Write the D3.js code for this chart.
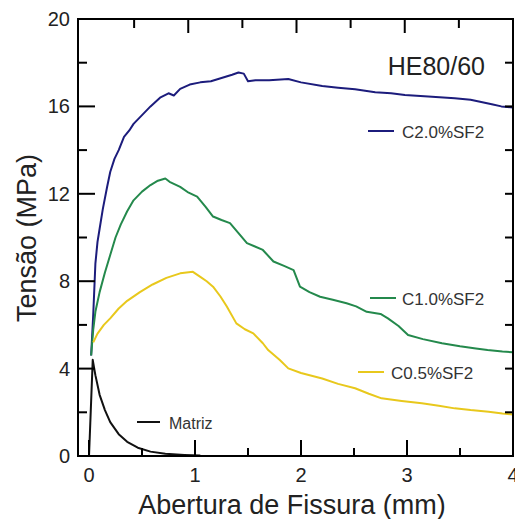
<!DOCTYPE html>
<html>
<head>
<meta charset="utf-8">
<script src="https://cdn.jsdelivr.net/npm/d3@7"></script>
<style>
  html, body { margin: 0; padding: 0; background: #fff; }
  svg { display: block; font-family: "Liberation Sans", Arial, sans-serif; }
</style>
</head>
<body>
<div id="chart"></div>
<script>
// values: [abertura (mm), tensão (MPa)]
const c20 = [[0.02,4.6],[0.04,6.5],[0.06,8.8],[0.08,9.8],[0.1,10.4],[0.13,11.3],[0.17,12.3],[0.2,13.0],[0.24,13.6],[0.28,14.0],[0.33,14.6],[0.38,14.9],[0.42,15.2],[0.5,15.6],[0.58,16.0],[0.67,16.4],[0.75,16.6],[0.8,16.5],[0.86,16.8],[0.95,17.0],[1.05,17.1],[1.15,17.15],[1.25,17.3],[1.35,17.45],[1.41,17.55],[1.46,17.5],[1.5,17.15],[1.57,17.2],[1.7,17.2],[1.88,17.25],[2.0,17.1],[2.2,16.93],[2.35,16.85],[2.51,16.78],[2.7,16.65],[2.85,16.6],[2.98,16.52],[3.2,16.45],[3.45,16.37],[3.6,16.3],[3.7,16.2],[3.8,16.1],[3.89,16.0],[4.0,15.95]];
const c10 = [[0.02,4.6],[0.04,5.8],[0.06,6.6],[0.1,7.5],[0.15,8.4],[0.2,9.2],[0.25,10.0],[0.3,10.6],[0.36,11.2],[0.42,11.7],[0.5,12.1],[0.58,12.4],[0.65,12.6],[0.72,12.7],[0.76,12.55],[0.86,12.32],[0.94,12.05],[1.02,11.87],[1.1,11.4],[1.17,10.96],[1.25,10.8],[1.33,10.66],[1.41,10.2],[1.49,9.74],[1.56,9.6],[1.64,9.43],[1.74,8.9],[1.84,8.7],[1.93,8.51],[1.99,7.75],[2.08,7.5],[2.18,7.29],[2.3,7.15],[2.43,6.99],[2.52,6.85],[2.62,6.6],[2.75,6.5],[2.82,6.3],[2.92,5.95],[3.01,5.54],[3.15,5.35],[3.33,5.16],[3.5,5.02],[3.65,4.92],[3.76,4.85],[3.9,4.78],[4.0,4.75]];
const c05 = [[0.04,5.2],[0.08,5.6],[0.14,6.0],[0.2,6.3],[0.28,6.75],[0.36,7.1],[0.48,7.5],[0.6,7.85],[0.73,8.15],[0.86,8.36],[0.98,8.43],[1.05,8.2],[1.11,8.0],[1.17,7.75],[1.24,7.3],[1.3,6.84],[1.39,6.07],[1.47,5.8],[1.55,5.61],[1.64,5.16],[1.69,4.85],[1.8,4.39],[1.88,4.01],[2.0,3.8],[2.2,3.55],[2.35,3.3],[2.51,3.1],[2.64,2.85],[2.76,2.64],[2.95,2.52],[3.14,2.41],[3.3,2.3],[3.45,2.18],[3.6,2.1],[3.77,2.03],[3.9,1.95],[4.0,1.9]];
const matriz = [[0.0,0.0],[0.035,4.4],[0.06,3.7],[0.1,2.8],[0.15,2.1],[0.2,1.55],[0.28,1.0],[0.36,0.65],[0.46,0.38],[0.58,0.2],[0.72,0.1],[0.9,0.05],[1.05,0.02]];

const seriesNames = ["C2.0%SF2", "C1.0%SF2", "C0.5%SF2", "Matriz"];
const seriesData = [c20, c10, c05, matriz];
const colors = ["#1c1c7c", "#24894c", "#e8c81c", "#111111"];

const xTicks = [0, 1, 2, 3, 4];
const yTicks = [0, 4, 8, 12, 16, 20];

const width = 515, height = 519;
const svg = d3.select("#chart").append("svg")
  .attr("width", width)
  .attr("height", height);

const x = d3.scaleLinear().domain([-0.104, 4]).range([78, 513]);
const xTop = d3.scaleLinear().domain([0, 4]).range([80, 513]); // top ticks sit a bit off in the original
const y = d3.scaleLinear().domain([0, 20]).range([456, 19]);

// curves
const line = d3.line().x(d => x(d[0])).y(d => y(d[1]));
svg.append("g").selectAll("path")
  .data(seriesData)
  .join("path")
  .attr("d", line)
  .attr("fill", "none")
  .attr("stroke", (d, i) => colors[i])
  .attr("stroke-width", 2)
  .attr("stroke-linejoin", "round");

// frame
svg.append("rect")
  .attr("x", 78).attr("y", 19)
  .attr("width", 513 - 78).attr("height", 456 - 19)
  .attr("fill", "none")
  .attr("stroke", "#000")
  .attr("stroke-width", 2);

// ticks (pointing inside)
const minorX = d3.range(0.5, 4, 1);
const minorY = d3.range(2, 20, 4);
const tickG = svg.append("g").attr("stroke", "#000").attr("stroke-width", 2);

tickG.selectAll(".xb").data(xTicks).join("line")
  .attr("x1", d => x(d)).attr("x2", d => x(d))
  .attr("y1", y(0)).attr("y2", y(0) - 16);
tickG.selectAll(".xbm").data(minorX).join("line")
  .attr("x1", d => x(d)).attr("x2", d => x(d))
  .attr("y1", y(0)).attr("y2", y(0) - 8);
tickG.selectAll(".xt").data([1, 2, 3]).join("line")
  .attr("x1", d => xTop(d)).attr("x2", d => xTop(d))
  .attr("y1", y(20)).attr("y2", y(20) + 14);
tickG.selectAll(".xtm").data(minorX).join("line")
  .attr("x1", d => xTop(d)).attr("x2", d => xTop(d))
  .attr("y1", y(20)).attr("y2", y(20) + 9);
tickG.selectAll(".yl").data(yTicks.slice(1, -1)).join("line")
  .attr("x1", 78).attr("x2", 78 + 17)
  .attr("y1", d => y(d)).attr("y2", d => y(d));
tickG.selectAll(".ylm").data(minorY).join("line")
  .attr("x1", 78).attr("x2", 78 + 9)
  .attr("y1", d => y(d)).attr("y2", d => y(d));
tickG.selectAll(".yr").data(d3.range(2, 20, 2)).join("line")
  .attr("x1", 513).attr("x2", 513 - 8)
  .attr("y1", d => y(d)).attr("y2", d => y(d));

// tick labels
svg.append("g").selectAll("text").data(xTicks).join("text")
  .attr("x", d => x(d)).attr("y", 482)
  .attr("text-anchor", "middle")
  .attr("font-size", 20).attr("fill", "#222")
  .text(d => d);
svg.append("g").selectAll("text").data(yTicks).join("text")
  .attr("x", 70).attr("y", d => y(d) + 7)
  .attr("text-anchor", "end")
  .attr("font-size", 20).attr("fill", "#222")
  .text(d => d);

// axis titles
svg.append("text")
  .attr("x", 292).attr("y", 514)
  .attr("text-anchor", "middle")
  .attr("font-size", 27).attr("fill", "#222")
  .text("Abertura de Fissura (mm)");
svg.append("text")
  .attr("transform", "translate(36,238) rotate(-90)")
  .attr("text-anchor", "middle")
  .attr("font-size", 27).attr("fill", "#222")
  .text("Tensão (MPa)");

svg.append("text")
  .attr("x", 485).attr("y", 75)
  .attr("text-anchor", "end")
  .attr("font-size", 25).attr("fill", "#222")
  .text("HE80/60");

// labels beside the curves
const legendPos = [[368, 131], [370, 298], [358, 372], [137, 422]];
const legend = svg.append("g").selectAll("g").data(seriesNames).join("g")
  .attr("transform", (d, i) => `translate(${legendPos[i][0]},${legendPos[i][1]})`);
legend.append("line")
  .attr("x1", 0).attr("x2", (d, i) => i === 3 ? 23 : 26)
  .attr("stroke", (d, i) => colors[i])
  .attr("stroke-width", 2);
legend.append("text")
  .attr("x", (d, i) => [34, 32, 33, 32][i])
  .attr("y", 7)
  .attr("font-size", (d, i) => i === 3 ? 16 : 17)
  .attr("fill", "#333")
  .text(d => d);
</script>
</body>
</html>
